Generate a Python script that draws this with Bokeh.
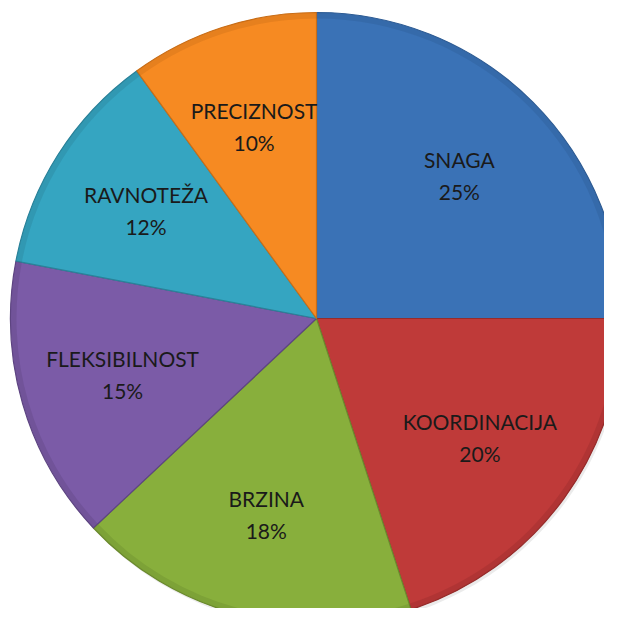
import math
from bokeh.plotting import figure
from bokeh.models import Range1d, ColumnDataSource
from bokeh.core.properties import value
from bokeh.embed import file_html
from bokeh.resources import INLINE

categories = ["SNAGA", "KOORDINACIJA", "BRZINA", "FLEKSIBILNOST", "RAVNOTEŽA", "PRECIZNOST"]
percent = [25, 20, 18, 15, 12, 10]
colors = ["#3A72B6", "#BF3A39", "#88AF3C", "#7B5BA7", "#35A5C1", "#F68A22"]
edge_colors = ["#2E5C94", "#962C2B", "#6B8A2E", "#5E4582", "#2A8299", "#C86E18"]

W, H = 604, 608
p = figure(width=W, height=H, output_backend="svg", toolbar_location=None,
           x_range=Range1d(0, W), y_range=Range1d(624 - H, 624),
           min_border=0)
p.axis.visible = False
p.grid.visible = False
p.outline_line_color = None
p.background_fill_color = "white"
p.border_fill_color = "white"

cx, cy, R = 316, 624 - 318, 306
total = sum(percent)
starts, ends, mids = [], [], []
cum = 0
for v in percent:
    a0 = math.pi / 2 - 2 * math.pi * cum / total
    cum += v
    a1 = math.pi / 2 - 2 * math.pi * cum / total
    starts.append(a0)
    ends.append(a1)
    mids.append((a0 + a1) / 2)

# soft shadow
p.circle(x=[cx + 2], y=[cy - 3], radius=R, fill_color="#000000", fill_alpha=0.08, line_color=None)

src = ColumnDataSource(dict(x=[cx] * len(percent), y=[cy] * len(percent),
                            s=starts, e=ends, c=colors, lc=edge_colors))
p.wedge(x="x", y="y", radius=R, start_angle="s", end_angle="e", direction="clock",
        fill_color="c", line_color="lc", line_width=1.2, source=src)
# subtle bevel near rim
p.annular_wedge(x="x", y="y", inner_radius=R - 6, outer_radius=R, start_angle="s", end_angle="e",
                direction="clock", fill_color="lc", fill_alpha=0.35, line_color=None, source=src)

lr = 0.66 * R
lx = [cx + lr * math.cos(m) for m in mids]
ly = [cy + lr * math.sin(m) for m in mids]
lab = ColumnDataSource(dict(x=lx, y=ly, name=categories, pct=[f"{v}%" for v in percent]))
common = dict(text_font=value("Lato"), text_font_size="21px", text_color="#1A1A1A",
              text_align="center", text_baseline="middle", source=lab)
p.text(x="x", y="y", text="name", y_offset=-16, **common)
p.text(x="x", y="y", text="pct", y_offset=16, **common)

open("out.html", "w").write(file_html(p, INLINE))
